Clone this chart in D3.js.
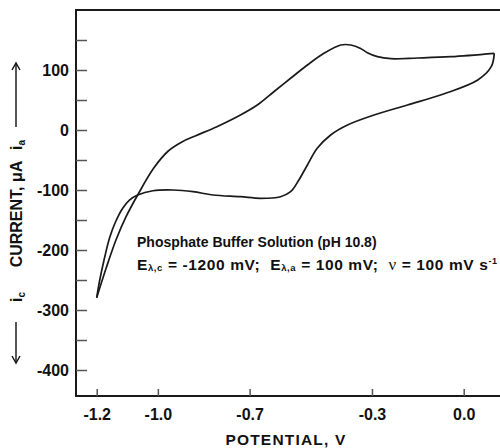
<!DOCTYPE html>
<html>
<head>
<meta charset="utf-8">
<script src="https://cdn.jsdelivr.net/npm/d3@7"></script>
<style>
  html, body { margin: 0; padding: 0; background: #fff; }
  svg { display: block; }
  text { font-family: "Liberation Sans", Arial, sans-serif; font-weight: bold; fill: #111; white-space: pre; }
</style>
</head>
<body>
<svg id="chart" width="500" height="448"></svg>
<script>
// ---- data (potential in V, current in µA) ----
const forwardV = [-1.200, -1.190, -1.176, -1.158, -1.140, -1.115, -1.093, -1.066, -1.016, -0.951, -0.885, -0.820, -0.730, -0.665, -0.599, -0.566, -0.539, -0.511, -0.479, -0.435, -0.380, -0.293, -0.184, -0.066, 0.046, 0.090, 0.100];
const forwardI = [-279.5, -250, -216.7, -180, -155, -130.5, -116.7, -108.3, -101.2, -100, -102.8, -108.3, -111.2, -113.8, -111.2, -102.8, -83.3, -58.3, -30.5, -8.3, 8.3, 25, 41.7, 60, 83.3, 105.5, 127.8];
const reverseV = [0.100, -0.042, -0.151, -0.238, -0.282, -0.315, -0.337, -0.369, -0.402, -0.457, -0.511, -0.566, -0.621, -0.675, -0.730, -0.807, -0.876, -0.920, -0.966, -1.014, -1.066, -1.104, -1.137, -1.169, -1.200];
const reverseI = [127.8, 122.2, 120, 118.8, 122.2, 128.8, 136, 141.7, 141.7, 127.8, 108.3, 86.2, 63.8, 41.7, 25, 5.5, -9.5, -19.5, -35, -63.8, -108.3, -144.5, -183.3, -230, -279.5];

const xTicks = [-1.2, -1.0, -0.7, -0.3, 0.0];
const xTickLabels = ["-1.2", "-1.0", "-0.7", "-0.3", "0.0"];
const yMajorTicks = [100, 0, -100, -200, -300, -400];
const yMinorTicks = [150, 50, -50, -150, -250, -350];

const xTitle = "POTENTIAL, V";
const yTitle = "CURRENT, μA";
const noteLine1 = "Phosphate Buffer Solution (pH 10.8)";

// ---- layout ----
const svg = d3.select("#chart");
const pLeft = 76, pRight = 502, pTop = 10, pBottom = 396;

const x = d3.scaleLinear().domain([-1.2, 0]).range([96.7, 463.7]);
const y = d3.scaleLinear().domain([-400, 100]).range([370, 70]);

// frame
const frame = svg.append("g").attr("stroke", "#1a1a1a").attr("stroke-width", 2).attr("fill", "none");
frame.append("line").attr("x1", pLeft).attr("x2", pRight).attr("y1", pTop).attr("y2", pTop);
frame.append("line").attr("x1", pLeft).attr("x2", pLeft).attr("y1", pTop - 1).attr("y2", pBottom + 1);
frame.append("line").attr("x1", pLeft).attr("x2", pRight).attr("y1", pBottom).attr("y2", pBottom);

const fontFam = "Liberation Sans, Arial, sans-serif";

// y axis (ticks pointing inward)
const yAxis = svg.append("g").attr("transform", `translate(${pLeft},0)`)
  .call(d3.axisLeft(y).tickValues(yMajorTicks).tickSizeInner(-11).tickSizeOuter(0).tickPadding(7)
        .tickFormat(d => String(d)));
yAxis.select(".domain").remove();
yAxis.selectAll("line").attr("stroke", "#555").attr("stroke-width", 1.5);
yAxis.selectAll("text").attr("font-size", 16).attr("fill", "#111")
  .attr("font-family", fontFam).attr("font-weight", "bold");

const yMinor = svg.append("g").attr("transform", `translate(${pLeft},0)`)
  .call(d3.axisLeft(y).tickValues(yMinorTicks).tickSizeInner(-11).tickSizeOuter(0).tickFormat(""));
yMinor.select(".domain").remove();
yMinor.selectAll("line").attr("stroke", "#555").attr("stroke-width", 1.5);

// x axis (ticks pointing up)
const xAxis = svg.append("g").attr("transform", `translate(0,${pBottom})`)
  .call(d3.axisBottom(x).tickValues(xTicks).tickSizeInner(-7).tickSizeOuter(0).tickPadding(13)
        .tickFormat((d, i) => xTickLabels[i]));
xAxis.select(".domain").remove();
xAxis.selectAll("line").attr("stroke", "#555").attr("stroke-width", 1.5);
xAxis.selectAll("text").attr("font-size", 16).attr("fill", "#111")
  .attr("font-family", fontFam).attr("font-weight", "bold");

// x title
svg.append("text").attr("x", 286).attr("y", 445).attr("text-anchor", "middle")
  .attr("font-size", 15.5).attr("letter-spacing", 1.2).text(xTitle);

// y title (rotated)
const yt = svg.append("g").attr("transform", "translate(22,0) rotate(-90)");
yt.append("text").attr("x", -214).attr("y", 0).attr("text-anchor", "middle")
  .attr("font-size", 16).text(yTitle);
const ic = yt.append("text").attr("x", -302).attr("y", 0).attr("font-size", 16);
ic.append("tspan").text("i");
ic.append("tspan").attr("dy", 3).attr("font-size", 10).text("c");
const ia = yt.append("text").attr("x", -150).attr("y", 0).attr("font-size", 16);
ia.append("tspan").text("i");
ia.append("tspan").attr("dy", 3).attr("font-size", 10).text("a");

// arrows next to y title
const arr = svg.append("g").attr("stroke", "#111").attr("stroke-width", 1.4).attr("fill", "none");
arr.append("line").attr("x1", 16).attr("x2", 16).attr("y1", 127).attr("y2", 64);
arr.append("path").attr("d", "M12,70 L16,63 L20,70");
arr.append("line").attr("x1", 16).attr("x2", 16).attr("y1", 322).attr("y2", 362);
arr.append("path").attr("d", "M12,356 L16,363 L20,356");

// curve
const line = d3.line().x(d => x(d[0])).y(d => y(d[1])).curve(d3.curveCatmullRom.alpha(0.5));
const fwd = forwardV.map((v, i) => [v, forwardI[i]]);
const rev = reverseV.map((v, i) => [v, reverseI[i]]);
svg.append("path").datum(fwd).attr("d", line).attr("fill", "none")
  .attr("stroke", "#1a1a1a").attr("stroke-width", 1.7);
svg.append("path").datum(rev).attr("d", line).attr("fill", "none")
  .attr("stroke", "#1a1a1a").attr("stroke-width", 1.7);

// annotation
svg.append("text").attr("x", 137).attr("y", 247).attr("font-size", 14).text(noteLine1);
const l2 = svg.append("text").attr("x", 137).attr("y", 270).attr("font-size", 15.5)
  .attr("textLength", 360).attr("lengthAdjust", "spacing");
l2.append("tspan").text("E");
l2.append("tspan").attr("font-size", 9.5).attr("dy", 1).text("λ,c");
l2.append("tspan").attr("dy", -1).text(" = -1200 mV;  E");
l2.append("tspan").attr("font-size", 9.5).attr("dy", 1).text("λ,a");
l2.append("tspan").attr("dy", -1).text(" = 100 mV;  ");
l2.append("tspan").attr("font-family", "Liberation Serif, serif").attr("font-weight", "normal").attr("font-size", 17).text("ν");
l2.append("tspan").text(" = 100 mV s");
l2.append("tspan").attr("font-size", 9).attr("dy", -6).text("-1");
</script>
</body>
</html>
